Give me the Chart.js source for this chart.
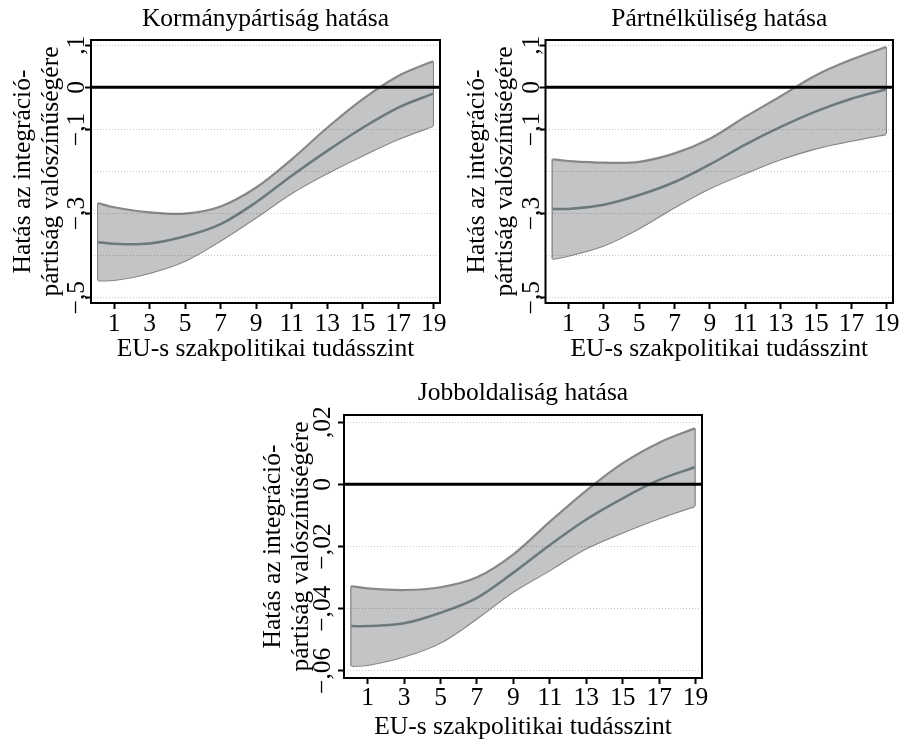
<!DOCTYPE html>
<html>
<head>
<meta charset="utf-8">
<script src="https://cdn.jsdelivr.net/npm/chart.js@4/dist/chart.umd.min.js"></script>
<style>
  html, body { margin: 0; padding: 0; background: #fff; }
  body { width: 908px; height: 743px; position: relative; overflow: hidden; }
  .panel { position: absolute; }
</style>
</head>
<body>
<div class="panel" style="left:0px;top:0px;width:454px;height:370px;"><canvas id="c1"></canvas></div>
<div class="panel" style="left:454px;top:0px;width:454px;height:370px;"><canvas id="c2"></canvas></div>
<div class="panel" style="left:220px;top:370px;width:500px;height:373px;"><canvas id="c3"></canvas></div>
<script>
// ---------- DATA ----------
const xValues = [0.1, 1, 3, 5, 7, 9, 11, 13, 15, 17, 18.95];

const kormMean  = [-0.368, -0.372, -0.371, -0.354, -0.325, -0.273, -0.210, -0.151, -0.096, -0.048, -0.015];
const kormUpper = [-0.275, -0.285, -0.297, -0.300, -0.283, -0.238, -0.171, -0.096, -0.028, 0.027, 0.062];
const kormLower = [-0.459, -0.458, -0.441, -0.412, -0.364, -0.309, -0.251, -0.204, -0.162, -0.123, -0.092];

const partMean  = [-0.289, -0.289, -0.279, -0.256, -0.225, -0.183, -0.136, -0.094, -0.057, -0.027, -0.005];
const partUpper = [-0.171, -0.175, -0.179, -0.177, -0.157, -0.122, -0.070, -0.021, 0.029, 0.066, 0.096];
const partLower = [-0.408, -0.400, -0.376, -0.335, -0.285, -0.240, -0.204, -0.171, -0.145, -0.127, -0.111];

const jobbMean  = [-0.0456, -0.0456, -0.0447, -0.0413, -0.0365, -0.0284, -0.0195, -0.0113, -0.0045, 0.0014, 0.0055];
const jobbUpper = [-0.0327, -0.0335, -0.0340, -0.0331, -0.0299, -0.0225, -0.0120, -0.0020, 0.0068, 0.0134, 0.0180];
const jobbLower = [-0.0584, -0.0581, -0.0554, -0.0509, -0.0431, -0.0345, -0.0276, -0.0206, -0.0155, -0.0109, -0.0070];

const xTicks = [1, 3, 5, 7, 9, 11, 13, 15, 17, 19];
const xTickLabels = ['1', '3', '5', '7', '9', '11', '13', '15', '17', '19'];
const xRange = [-0.3, 19.35];

const yTicksA = [-0.5, -0.4, -0.3, -0.2, -0.1, 0, 0.1];
const yTickLabelsA = ['\u2212,5', '', '\u2212,3', '', '\u2212,1', '0', ',1'];
const yRangeA = [-0.5126, 0.1126];

const yTicksB = [-0.06, -0.04, -0.02, 0, 0.02];
const yTickLabelsB = ['\u2212,06', '\u2212,04', '\u2212,02', '0', ',02'];
const yRangeB = [-0.0623, 0.0223];

const titles = ['Kormánypártiság hatása', 'Pártnélküliség hatása', 'Jobboldaliság hatása'];
const xTitle = 'EU-s szakpolitikai tudásszint';
const yTitle = ['Hatás az integráció-', 'pártiság valószínűségére'];

// ---------- STYLE ----------
const FONT = 'Liberation Serif';
const FS = 25.5;
Chart.defaults.font.family = FONT;
Chart.defaults.font.size = FS;
Chart.defaults.color = '#000';

const BAND_FILL = '#c3c4c6';
const BAND_EDGE = '#878787';
const MEAN_COLOR = '#6b797c';
const TENSION = 0.35;

const framePlugin = {
  id: 'frame',
  afterDraw(chart) {
    const a = chart.chartArea, ctx = chart.ctx;
    ctx.save();
    ctx.strokeStyle = '#000';
    ctx.lineWidth = 2;
    ctx.strokeRect(a.left, a.top, a.right - a.left, a.bottom - a.top);
    ctx.restore();
  }
};

function pts(xs, ys) { return xs.map((x, i) => ({ x: x, y: ys[i] })); }

function makeChart(id, cfg) {
  const n = xValues.length - 1;
  const datasets = [
    { data: xRange.map(x => ({ x: x, y: 0 })), borderColor: '#000', borderWidth: 3,
      pointRadius: 0, tension: 0, order: 0 },
    { data: pts(xValues, cfg.mean), borderColor: MEAN_COLOR, borderWidth: 2.5,
      pointRadius: 0, tension: TENSION, order: 1 },
    { data: pts(xValues, cfg.upper), borderColor: BAND_EDGE, borderWidth: 2.2,
      backgroundColor: BAND_FILL, fill: '+1',
      pointRadius: 0, tension: TENSION, order: 2 },
    { data: pts(xValues, cfg.lower), borderColor: BAND_EDGE, borderWidth: 2.2,
      pointRadius: 0, tension: TENSION, order: 2 },
    { data: [{ x: xValues[0], y: cfg.upper[0] }, { x: xValues[0], y: cfg.lower[0] }],
      borderColor: BAND_EDGE, borderWidth: 2.2, pointRadius: 0, tension: 0, order: 2 },
    { data: [{ x: xValues[n], y: cfg.upper[n] }, { x: xValues[n], y: cfg.lower[n] }],
      borderColor: BAND_EDGE, borderWidth: 2.2, pointRadius: 0, tension: 0, order: 2 }
  ];
  return new Chart(document.getElementById(id), {
    type: 'line',
    data: { datasets: datasets },
    plugins: [framePlugin],
    options: {
      responsive: true,
      maintainAspectRatio: false,
      animation: false,
      events: [],
      layout: { padding: cfg.layoutPad },
      plugins: {
        legend: { display: false },
        tooltip: { enabled: false },
        title: {
          display: true, text: cfg.title, fullSize: false,
          font: { family: FONT, size: FS, weight: 'normal', lineHeight: 1.2 },
          color: '#000', padding: cfg.titlePad
        }
      },
      scales: {
        x: {
          type: 'linear', min: xRange[0], max: xRange[1],
          afterBuildTicks: s => { s.ticks = xTicks.map(v => ({ value: v })); },
          afterFit: s => { s.height = cfg.xHeight; },
          ticks: {
            autoSkip: false, maxRotation: 0, minRotation: 0, padding: cfg.xTickPad,
            font: { family: FONT, size: FS, lineHeight: 1.2 }, color: '#000',
            callback: (v, i) => xTickLabels[i]
          },
          grid: { drawOnChartArea: false, drawTicks: true, tickLength: 6,
                  tickColor: '#000', tickWidth: 2 },
          border: { display: false },
          title: { display: true, text: xTitle, color: '#000',
                   font: { family: FONT, size: FS, lineHeight: 1.2 },
                   padding: { top: 0, bottom: 0 } }
        },
        y: {
          type: 'linear', min: cfg.yRange[0], max: cfg.yRange[1],
          afterBuildTicks: s => { s.ticks = cfg.yTicks.map(v => ({ value: v })); },
          afterFit: s => { s.width = cfg.yWidth; },
          ticks: {
            autoSkip: false, minRotation: 90, maxRotation: 90, crossAlign: 'center',
            padding: cfg.yTickPad, font: { family: FONT, size: FS, lineHeight: 1.2 }, color: '#000',
            callback: (v, i) => cfg.yLabels[i]
          },
          grid: {
            z: 1, drawTicks: true, tickLength: 6, tickWidth: 2,
            color: 'rgba(0,0,0,0.22)', lineWidth: 1,
            tickColor: ctx => cfg.yLabels[ctx.index] ? '#000' : 'rgba(0,0,0,0)'
          },
          border: { display: false, dash: [1, 2] },
          title: { display: true, text: yTitle, color: '#000',
                   font: { family: FONT, size: FS, lineHeight: 1.1 },
                   padding: { top: cfg.yTitlePadTop, bottom: 0 } }
        }
      }
    }
  });
}

makeChart('c1', {
  title: titles[0], mean: kormMean, upper: kormUpper, lower: kormLower,
  yRange: yRangeA, yTicks: yTicksA, yLabels: yTickLabelsA,
  layoutPad: { left: 0, right: 14, top: 0, bottom: 5 },
  titlePad: { top: 4.4, bottom: 5.0 }, xHeight: 62, xTickPad: 0.4,
  yWidth: 91, yTickPad: -9.5, yTitlePadTop: 9.2
});
makeChart('c2', {
  title: titles[1], mean: partMean, upper: partUpper, lower: partLower,
  yRange: yRangeA, yTicks: yTicksA, yLabels: yTickLabelsA,
  layoutPad: { left: 0, right: 15, top: 0, bottom: 5 },
  titlePad: { top: 4.4, bottom: 5.0 }, xHeight: 62, xTickPad: 0.4,
  yWidth: 91.5, yTickPad: -9.5, yTitlePadTop: 9.2
});
makeChart('c3', {
  title: titles[2], mean: jobbMean, upper: jobbUpper, lower: jobbLower,
  yRange: yRangeB, yTicks: yTicksB, yLabels: yTickLabelsB,
  layoutPad: { left: 0, right: 18, top: 0, bottom: 0.3 },
  titlePad: { top: 7.8, bottom: 6.6 }, xHeight: 64.7, xTickPad: -1.2,
  yWidth: 124, yTickPad: -8.4, yTitlePadTop: 39.2
});
</script>
</body>
</html>
